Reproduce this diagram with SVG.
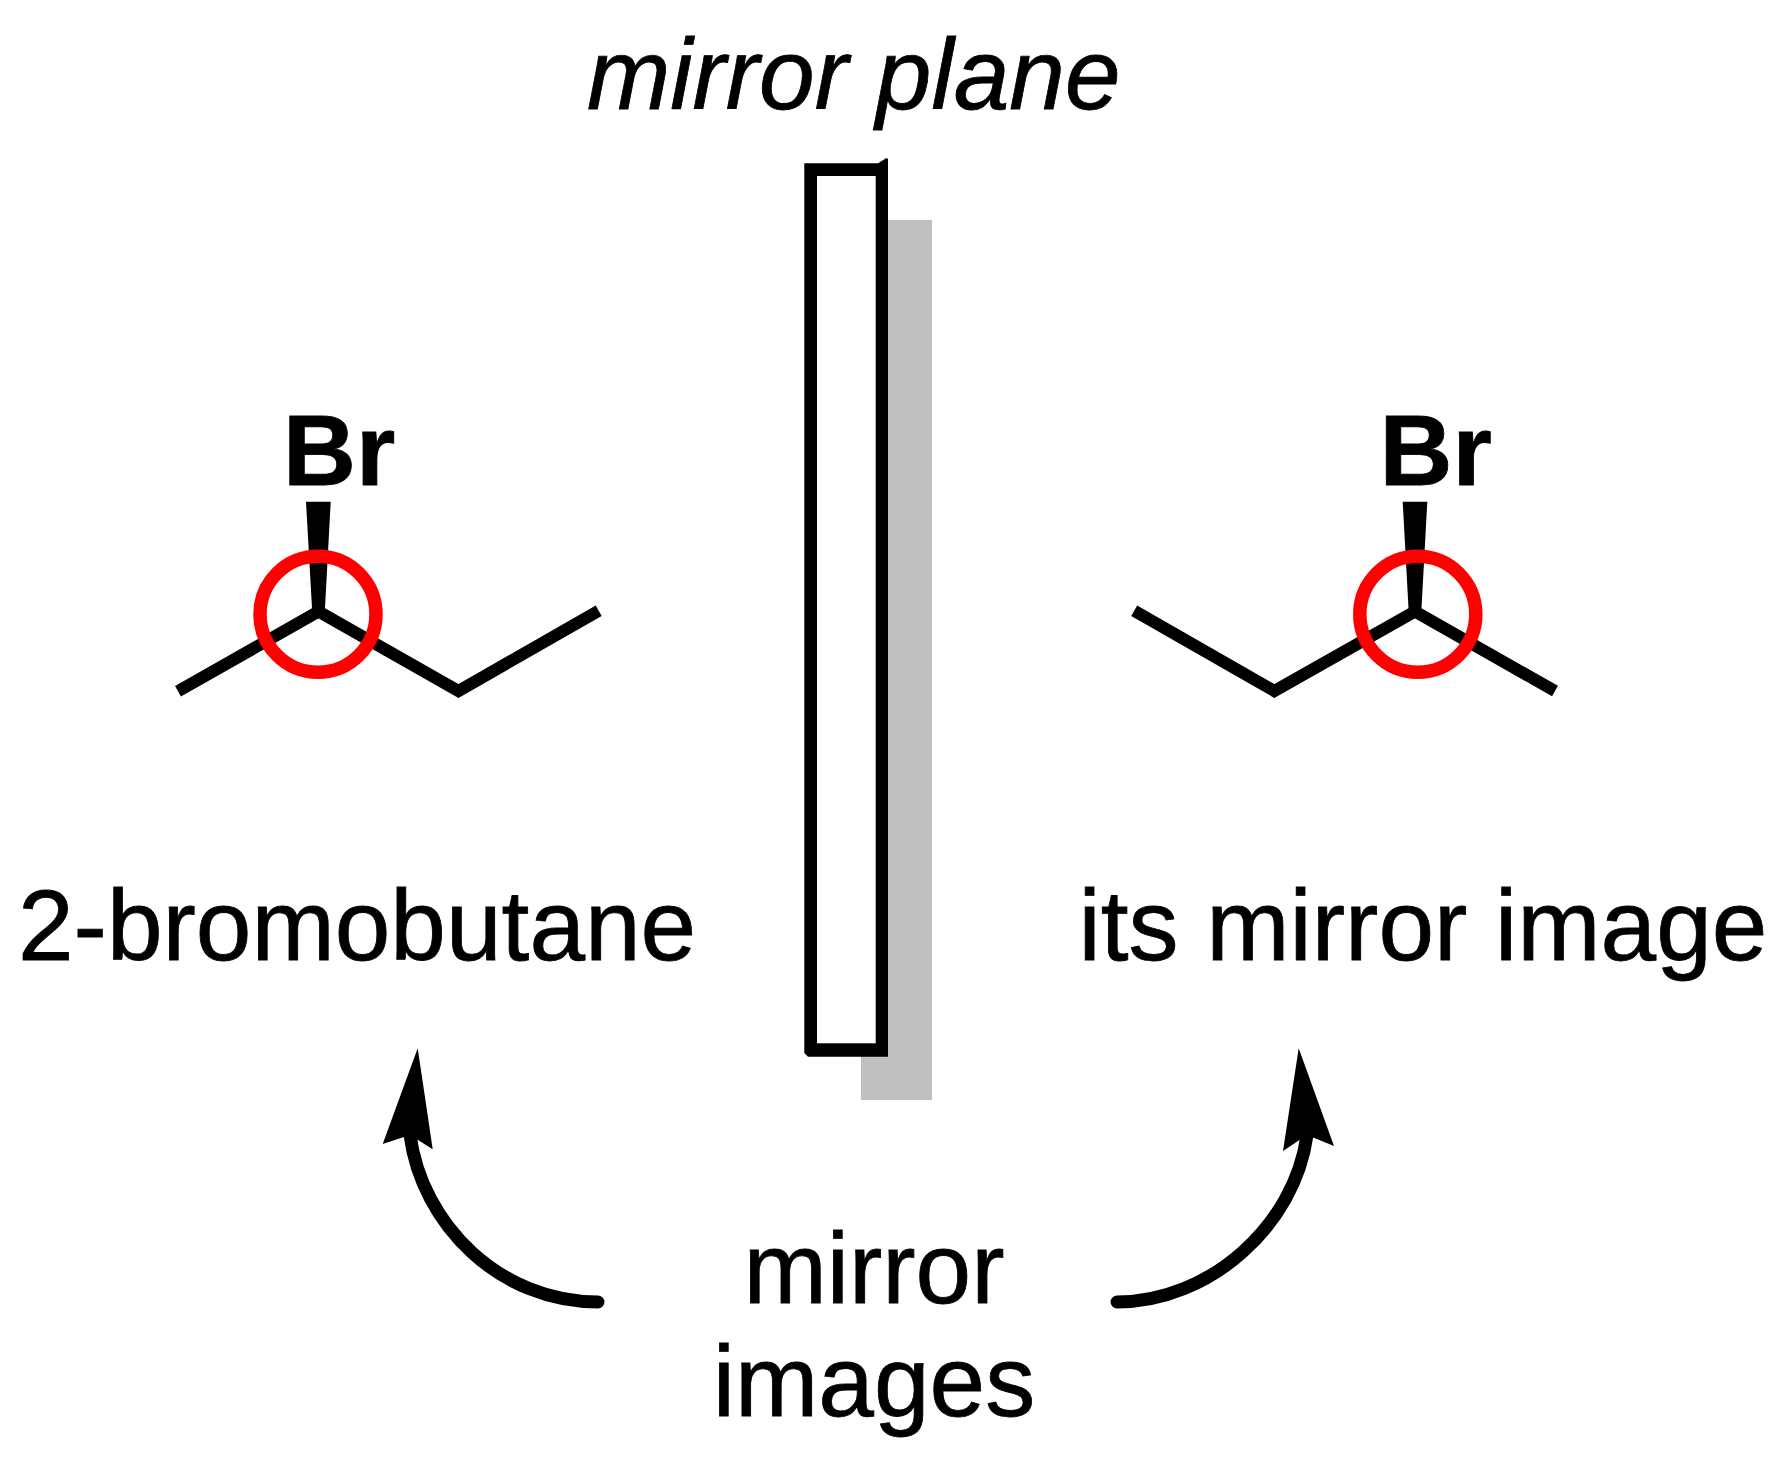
<svg xmlns="http://www.w3.org/2000/svg" width="1785" height="1459" viewBox="0 0 1785 1459">
<style>
text{font-family:"Liberation Sans",Arial,sans-serif;fill:#000}
.lbl{font-size:100px;stroke:#000;stroke-width:.8px}
.br{font-size:101px;font-weight:bold;stroke:#000;stroke-width:.8px}
.bond{fill:none;stroke:#000;stroke-width:12;stroke-linejoin:miter;stroke-linecap:butt}
.ring{fill:none;stroke:#f00;stroke-width:13.5}
.arc{fill:none;stroke:#000;stroke-width:13;stroke-linecap:round}
</style>
<rect width="1785" height="1459" fill="#fff"/>
<g id="mirror">
<rect x="861" y="220" width="71" height="880" fill="#c0c0c0"/>
<path d="M804.3 163.3H878L886.5 158L888 159V1056.7H808L804.3 1053Z" fill="#000"/>
<rect x="817" y="176" width="58.7" height="867.3" fill="#fff"/>
<text x="587" y="109" class="lbl" font-style="italic">mirror plane</text>
</g>
<g id="molecule-left">
<text x="283" y="485" class="br">Br</text>
<path class="bond" d="M178,691.3L318.5,611.5L458.5,691L598.7,610.7"/>
<polygon points="306,501.7 330.7,501.7 325,608 318.5,612 312,608" fill="#000"/>
<circle class="ring" cx="318" cy="614.3" r="58"/>
<text x="18" y="959.5" class="lbl">2-bromobutane</text>
</g>
<g id="molecule-right">
<text x="1379.5" y="485" class="br">Br</text>
<path class="bond" d="M1134.2,610.7L1274.3,691L1415,611.5L1555,691"/>
<polygon points="1402.7,501.7 1427.3,501.7 1421.5,608 1415,612 1408.5,608" fill="#000"/>
<circle class="ring" cx="1417.8" cy="614.3" r="58"/>
<text x="1078.5" y="959.5" class="lbl">its mirror image</text>
</g>
<g id="label-mirror-images">
<text x="874" y="1303" class="lbl" text-anchor="middle">mirror</text>
<text x="874" y="1416" class="lbl" text-anchor="middle">images</text>
</g>
<g id="connectors">
<path class="arc" d="M598,1302C500,1302 422,1225 410,1135"/>
<polygon points="417.7,1048.3 432.7,1149.3 410,1135 382.7,1144" fill="#000"/>
<path class="arc" d="M1117,1302C1210,1302 1295,1225 1307,1135"/>
<polygon points="1298.7,1048.3 1334,1146 1307,1135 1283,1151" fill="#000"/>
</g>
</svg>
